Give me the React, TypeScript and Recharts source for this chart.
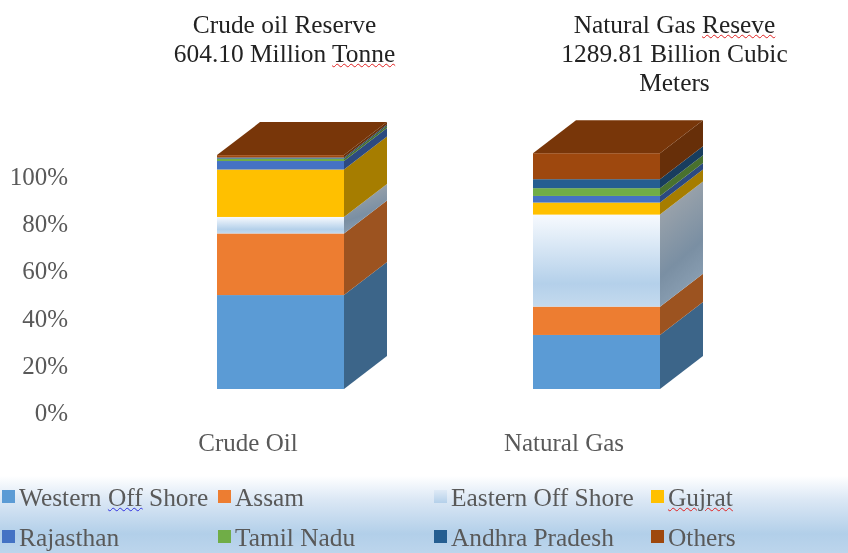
import React from "react";
import { BarChart, Bar, XAxis, YAxis, Legend } from "recharts";

const categories = ["Crude Oil", "Natural Gas"];
const seriesNames = ["Western Off Shore", "Assam", "Eastern Off Shore", "Gujrat", "Rajasthan", "Tamil Nadu", "Andhra Pradesh", "Others"];
const westernOffShore = [39.8, 22.9];
const assam = [26.1, 12.0];
const easternOffShore = [7.0, 39.0];
const gujrat = [20.1, 5.1];
const rajasthan = [3.6, 2.8];
const tamilNadu = [1.0, 3.3];
const andhraPradesh = [0.5, 3.8];
const others = [1.0, 11.0];
const seriesValues = [westernOffShore, assam, easternOffShore, gujrat, rajasthan, tamilNadu, andhraPradesh, others];
const yTicks = [0, 20, 40, 60, 80, 100];

const frontColors = ["#5b9bd5", "#ed7d31", "url(#eastFront)", "#ffc000", "#4472c4", "#70ad47", "#255e91", "#9e480e"];
const sideColors = ["#3c6589", "#9c5320", "url(#eastSide)", "#a67d00", "#2c4a80", "#49712e", "#183d5e", "#672f09"];
const swatches = ["#5b9bd5", "#ed7d31", "linear-gradient(#dfeaf6,#b4d0ea)", "#ffc000", "#4472c4", "#70ad47", "#255e91", "#9e480e"];
const legendCols = [2, 218, 434, 651];

const data = categories.map((name, i) => {
  const row: Record<string, string | number> = { name };
  seriesNames.forEach((s, k) => { row[s] = seriesValues[k][i]; });
  return row;
});

const DX = 43;
const DY = 33;
const SERIF = "'Liberation Serif', serif";
const GREY = "#595959";

const makeShape = (k: number) => (p: any) => {
  const { x, y, width: w, height: h } = p;
  const r = x + w;
  const b = y + h;
  return (
    <g>
      <rect x={x} y={y} width={w} height={h} fill={frontColors[k]} />
      <polygon points={`${r},${y} ${r + DX},${y - DY} ${r + DX},${b - DY} ${r},${b}`} fill={sideColors[k]} />
      {k === seriesNames.length - 1 && (
        <polygon points={`${x},${y} ${x + DX},${y - DY} ${r + DX},${y - DY} ${r},${y}`} fill="#783609" />
      )}
    </g>
  );
};

const YTick = ({ x, y, payload }: any) => (
  <text x={x} y={y + 32} textAnchor="end" fontFamily={SERIF} fontSize={25} fill={GREY}>{payload.value}%</text>
);
const XTick = ({ x, y, payload }: any) => (
  <text x={x - 32} y={y + 54} textAnchor="middle" fontFamily={SERIF} fontSize={25} fill={GREY}>{payload.value}</text>
);

const redWave = "underline wavy #e02020 1px";
const blueWave = "underline wavy #3030e0 1px";

const LegendContent = () => (
  <div style={{ position: "relative", width: 848, height: 77, background: "linear-gradient(#ffffff 0%, #dce8f5 30%, #b2cfe9 75%, #bcd5ec 100%)", fontFamily: SERIF, fontSize: 25.4, color: GREY }}>
    {seriesNames.map((s, k) => {
      const col = k % 4;
      const row = Math.floor(k / 4);
      return (
        <div key={s} style={{ position: "absolute", left: legendCols[col], top: 6 + row * 40, height: 30, lineHeight: "30px", whiteSpace: "nowrap" }}>
          <span style={{ position: "absolute", left: 0, top: 8, width: 13, height: 13, background: swatches[k] }} />
          <span style={{ position: "absolute", left: 17, top: 0, textDecoration: s === "Gujrat" ? redWave : undefined }}>
            {s === "Western Off Shore" ? (<>Western <span style={{ textDecoration: blueWave }}>Off</span> Shore</>) : s}
          </span>
        </div>
      );
    })}
  </div>
);

const titleStyle: React.CSSProperties = { position: "absolute", textAlign: "center", fontFamily: SERIF, fontSize: 25.4, lineHeight: "29px", color: "#222", whiteSpace: "nowrap", transform: "translateX(-50%)" };
const squiggle: React.CSSProperties = { textDecoration: redWave };

export default function App() {
  return (
    <div style={{ position: "absolute", left: 0, top: 0, width: 848, height: 553, background: "#fff", overflow: "hidden", filter: "blur(0.4px)" }}>
      <BarChart width={848} height={553} data={data} margin={{ top: 153, right: 94, left: 0, bottom: 0 }} barSize={127}>
        <defs>
          <linearGradient id="eastFront" x1="0" y1="0" x2="0" y2="1">
            <stop offset="0" stopColor="#f7fafe" />
            <stop offset="0.75" stopColor="#b4d0ea" />
            <stop offset="1" stopColor="#c4daee" />
          </linearGradient>
          <linearGradient id="eastSide" x1="0" y1="0" x2="0.3" y2="1">
            <stop offset="0" stopColor="#a8abae" />
            <stop offset="0.7" stopColor="#7a8fa3" />
            <stop offset="1" stopColor="#8a9fb3" />
          </linearGradient>
        </defs>
        <XAxis dataKey="name" axisLine={false} tickLine={false} height={87} tick={<XTick />} interval={0} />
        <YAxis type="number" domain={[0, 100]} ticks={yTicks} width={122} axisLine={false} tickLine={false} tickMargin={48} tick={<YTick />} />
        {seriesNames.map((s, k) => (
          <Bar key={s} dataKey={s} stackId="a" fill={swatches[k]} isAnimationActive={false} shape={makeShape(k)} />
        ))}
        <Legend verticalAlign="bottom" height={77} wrapperStyle={{ left: 0, width: 848 }} content={<LegendContent />} />
      </BarChart>
      <div style={{ ...titleStyle, left: 284.5, top: 10 }}>Crude oil Reserve<br />604.10 Million <span style={squiggle}>Tonne</span></div>
      <div style={{ ...titleStyle, left: 674.5, top: 10 }}>Natural Gas <span style={squiggle}>Reseve</span><br />1289.81 Billion Cubic<br />Meters</div>
    </div>
  );
}
